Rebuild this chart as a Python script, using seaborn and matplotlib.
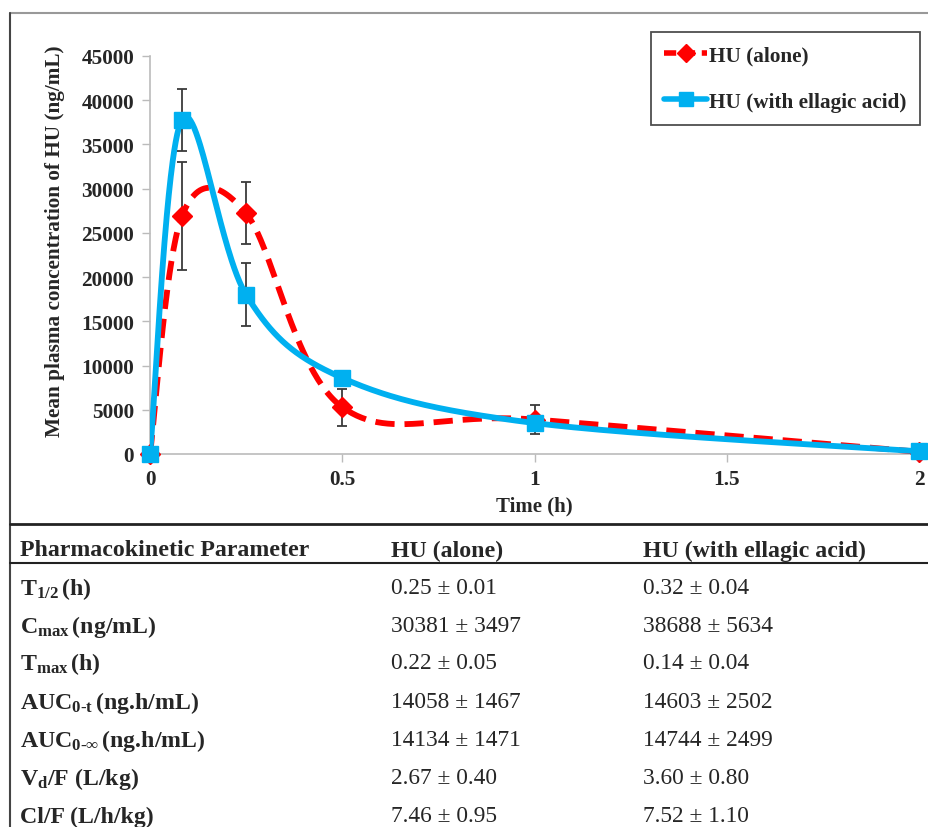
import numpy as np
import pandas as pd
import matplotlib
matplotlib.use("Agg")
import matplotlib.pyplot as plt
from matplotlib.lines import Line2D
import seaborn as sns

# ---------------- data ----------------
time_h = [0, 0.083, 0.25, 0.5, 1, 2]
hu_alone = [0, 26900, 27200, 5300, 3900, 250]
hu_alone_sd = [0, 6100, 3500, 2100, 1600, 150]
hu_ellagic = [0, 37800, 18000, 8600, 3500, 300]
hu_ellagic_sd = [0, 3500, 3550, 400, 500, 150]

series_names = ["HU (alone)", "HU (with ellagic acid)"]
x_ticks = [0, 0.5, 1, 1.5, 2]
x_tick_labels = ["0", "0.5", "1", "1.5", "2"]
y_ticks = [0, 5000, 10000, 15000, 20000, 25000, 30000, 35000, 40000, 45000]

table_header = ["Pharmacokinetic Parameter", "HU (alone)", "HU (with ellagic acid)"]
param_labels = [
    r"$\mathbf{T_{1/2}}\,$(h)",
    r"$\mathbf{C_{max}}\,$(ng/mL)",
    r"$\mathbf{T_{max}}\,$(h)",
    r"$\mathbf{AUC_{0\text{-}t}}\,$(ng.h/mL)",
    r"$\mathbf{AUC_{0\text{-}\infty}}\,$(ng.h/mL)",
    r"$\mathbf{V_d}$/F (L/kg)",
    "Cl/F (L/h/kg)",
]
alone_values = ["0.25 ± 0.01", "30381 ± 3497", "0.22 ± 0.05", "14058 ± 1467",
                "14134 ± 1471", "2.67 ± 0.40", "7.46 ± 0.95"]
ellagic_values = ["0.32 ± 0.04", "38688 ± 5634", "0.14 ± 0.04", "14603 ± 2502",
                  "14744 ± 2499", "3.60 ± 0.80", "7.52 ± 1.10"]

# ---------------- style ----------------
sns.set_theme(style="white")
plt.rcParams["font.family"] = ["Liberation Serif", "DejaVu Serif"]
plt.rcParams["mathtext.fontset"] = "custom"
plt.rcParams["mathtext.rm"] = "Liberation Serif:bold"
plt.rcParams["mathtext.bf"] = "Liberation Serif:bold"
plt.rcParams["mathtext.it"] = "Liberation Serif:bold"

RED = "#FF0000"
BLUE = "#00B0F0"


def smooth(xs, ys, n=60):
    """Excel-like smoothed line (Catmull-Rom / cubic Bezier) through points."""
    P = np.column_stack([xs, ys]).astype(float)
    out = []
    m = len(P)
    t = np.linspace(0, 1, n)[:, None]
    for i in range(m - 1):
        p0 = P[i - 1] if i > 0 else P[i]
        p1 = P[i]
        p2 = P[i + 1]
        p3 = P[i + 2] if i + 2 < m else P[i + 1]
        c1 = p1 + (p2 - p0) / 6.0
        c2 = p2 - (p3 - p1) / 6.0
        seg = ((1 - t) ** 3) * p1 + 3 * ((1 - t) ** 2) * t * c1 + 3 * (1 - t) * t ** 2 * c2 + t ** 3 * p2
        out.append(seg if i == 0 else seg[1:])
    out = np.vstack(out)
    return out[:, 0], out[:, 1]


W, H = 929, 828
fig = plt.figure(figsize=(W / 100, H / 100), dpi=100)


def fx(px):
    return px / W


def fy(py):
    return 1 - py / H


# ---- frame / table lines ----
fig.add_artist(Line2D([fx(10), 1], [fy(14), fy(14)], color="#999999", lw=1.5))
fig.add_artist(Line2D([fx(10), fx(10)], [fy(14), 0], color="#444444", lw=1.5))
fig.add_artist(Line2D([fx(10), 1], [fy(525), fy(525)], color="#222222", lw=2.0))
fig.add_artist(Line2D([fx(10), 1], [fy(564), fy(564)], color="#222222", lw=1.5))

# ---- chart axes ----
ax = fig.add_axes([fx(150), fy(455), fx(919) - fx(150), fy(57) - fy(455)])

sx, sy = smooth(time_h, hu_alone)
bx, by = smooth(time_h, hu_ellagic)
curves = pd.DataFrame({
    "time": np.concatenate([sx, bx]),
    "conc": np.concatenate([sy, by]),
    "series": [series_names[0]] * len(sx) + [series_names[1]] * len(bx),
})
sns.lineplot(data=curves[curves.series == series_names[0]], x="time", y="conc",
             color=RED, lw=4.2, ax=ax, sort=False, estimator=None, zorder=3,
             legend=False)
ax.lines[-1].set_linestyle((0, (3.3, 1.7)))
ax.errorbar(time_h, hu_alone, yerr=hu_alone_sd, fmt="none", ecolor="#3a3a3a",
            elinewidth=1.3, capsize=3.5, capthick=1.3, zorder=4)
ax.plot(time_h, hu_alone, ls="none", marker="D", ms=10, color=RED, zorder=5,
        clip_on=False)

sns.lineplot(data=curves[curves.series == series_names[1]], x="time", y="conc",
             color=BLUE, lw=4.2, ax=ax, sort=False, estimator=None, zorder=6,
             legend=False)
ax.errorbar(time_h, hu_ellagic, yerr=hu_ellagic_sd, fmt="none", ecolor="#3a3a3a",
            elinewidth=1.3, capsize=3.5, capthick=1.3, zorder=7)
ax.plot(time_h, hu_ellagic, ls="none", marker="s", ms=11, color=BLUE, zorder=8,
        clip_on=False)

ax.set_xlim(0, 2)
ax.set_ylim(0, 45000)
ax.set_xticks(x_ticks)
ax.set_xticklabels(x_tick_labels)
ax.set_yticks(y_ticks)
ax.set_yticklabels([str(v) for v in y_ticks])
for lab in ax.get_xticklabels() + ax.get_yticklabels():
    lab.set_fontweight("bold")
    lab.set_fontsize(15.3)
ax.tick_params(axis="both", direction="out", length=6, width=1, color="#bbbbbb",
               left=True, bottom=True)
ax.tick_params(axis="y", pad=5.5)
ax.tick_params(axis="x", pad=5)
for side in ["top", "right"]:
    ax.spines[side].set_visible(False)
for side in ["left", "bottom"]:
    ax.spines[side].set_color("#bbbbbb")
    ax.spines[side].set_linewidth(1.2)
ax.set_xlabel("Time (h)", fontsize=15, fontweight="bold")
ax.set_ylabel("Mean plasma concentration of HU (ng/mL)", fontsize=15.3,
              fontweight="bold")
ax.yaxis.set_label_coords(-0.11, 0.538)
ax.xaxis.set_label_coords(0.5, -0.104)
ax.grid(False)
ax.patch.set_alpha(0)

handles = [
    Line2D([0], [0], color=RED, lw=4, ls=(0, (2.2, 1.2)), marker="D", ms=9),
    Line2D([0], [0], color=BLUE, lw=4, marker="s", ms=10),
]
leg = ax.legend(handles, series_names, loc="upper right",
                bbox_to_anchor=(fx(920), fy(33)), bbox_transform=fig.transFigure,
                frameon=True, fancybox=False, handlelength=2.0, handletextpad=0.12,
                labelspacing=1.25, borderpad=0.62, borderaxespad=0,
                prop={"weight": "bold", "size": 15.3})
leg.get_frame().set_edgecolor("#222222")
leg.get_frame().set_linewidth(1.3)

# ---- table ----
col_x = [fx(20), fx(391), fx(643)]
for cx, txt in zip(col_x, table_header):
    fig.text(cx, fy(551), txt, fontsize=17.2, fontweight="bold",
             va="center", ha="left")
row_y = [589, 627, 664, 703, 741, 779, 817]
for lab, a, e, yy in zip(param_labels, alone_values, ellagic_values, row_y):
    fig.text(col_x[0], fy(yy), lab, fontsize=17.2, fontweight="bold", va="center", ha="left")
    fig.text(col_x[1], fy(yy), a, fontsize=16.8, va="center", ha="left")
    fig.text(col_x[2], fy(yy), e, fontsize=16.8, va="center", ha="left")

fig.savefig("out.png", dpi=100)
